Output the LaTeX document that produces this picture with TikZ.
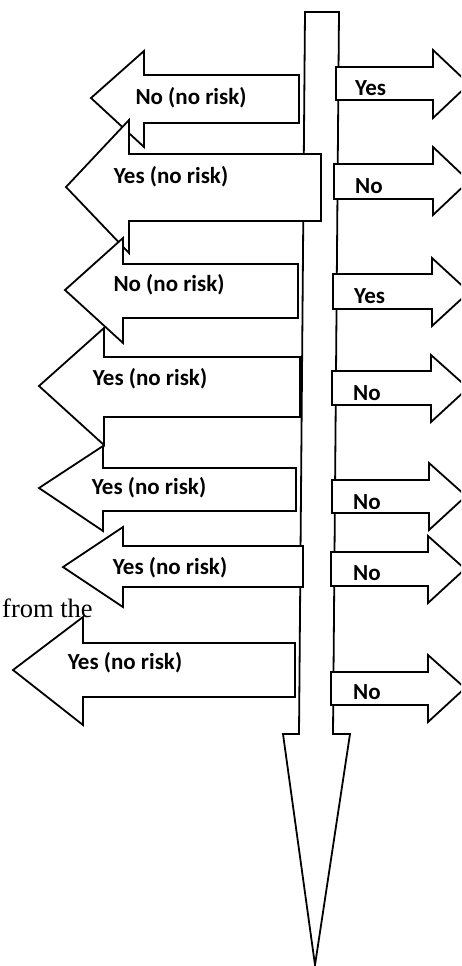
\documentclass[tikz,border=0pt]{standalone}
\usepackage{fontspec}
\setmainfont{Carlito}
\newfontfamily\serifface{Liberation Serif}
\tikzset{
  arr/.style={draw=black, fill=white, line width=1.8pt, line join=miter},
  lbl/.style={font=\bfseries\fontsize{23}{26}\selectfont, inner sep=0pt},
  rlbl/.style={lbl, anchor=west},
}
\newcommand{\LArr}[8]{\draw[arr] (#1,#2) -- (#4,#2) -- (#4,#5) -- (#7,#8) -- (#4,#6) -- (#4,#3) -- (#1,#3) -- cycle;}
\newcommand{\RArr}[8]{\draw[arr] (#1,#2) -- (#4,#2) -- (#4,#5) -- (#7,#8) -- (#4,#6) -- (#4,#3) -- (#1,#3) -- cycle;}
\begin{document}
\begin{tikzpicture}[x=1pt,y=-1pt]
\useasboundingbox (0,0) rectangle (461,966);
\begin{scope}
\clip (0,0) rectangle (461,966);
% main downward arrow
\draw[arr] (305,12) -- (339,12) -- (333,734) -- (350,734) -- (315,965) -- (283,734) -- (299,734) -- cycle;
% left arrows
\LArr{299}{75}{123}{144}{51}{147}{91}{98}
\LArr{321}{154}{221}{129}{120}{253}{66}{187}
\LArr{298}{264}{318}{123}{238}{343}{65}{290}
\LArr{300}{357}{417}{104}{328}{445}{39}{386}
\LArr{296}{468}{511}{103}{446}{531}{39}{488}
\LArr{303}{546}{587}{123}{527}{607}{63}{567}
\LArr{295}{643}{697}{83}{617}{725}{13}{670}
% right arrows
\RArr{336}{67}{100}{433}{50}{118}{469}{84}
\RArr{334}{164}{199}{433}{147}{215}{469}{181}
\RArr{333}{274}{309}{432}{258}{326}{469}{292}
\RArr{332}{371}{405}{431}{355}{422}{468}{388}
\RArr{332}{480}{513}{429}{463}{530}{466}{496}
\RArr{331}{552}{586}{428}{536}{603}{465}{569}
\RArr{331}{672}{705}{428}{655}{722}{465}{688}
\end{scope}
% left labels
\node[lbl] (l1) at (191,98) {No (no risk)};
\node[lbl] (l2) at (171,177) {Yes (no risk)};
\node[lbl] (l3) at (169,285) {No (no risk)};
\node[lbl] (l4) at (150,379) {Yes (no risk)};
\node[lbl] (l5) at (149,488) {Yes (no risk)};
\node[lbl] (l6) at (170,568) {Yes (no risk)};
\node[lbl] (l7) at (125,663) {Yes (no risk)};
% right labels
\node[rlbl] (r1) at (355,88) {Yes};
\node[rlbl] (r2) at (355,186) {No};
\node[rlbl] (r3) at (354,296) {Yes};
\node[rlbl] (r4) at (353,393) {No};
\node[rlbl] (r5) at (353,502) {No};
\node[rlbl] (r6) at (353,573) {No};
\node[rlbl] (r7) at (353,692) {No};
% stray text
\node[font=\serifface\fontsize{26.5}{30}\selectfont, inner sep=0pt, anchor=base west] (ft) at (2,617) {from the};
\end{tikzpicture}
\end{document}
